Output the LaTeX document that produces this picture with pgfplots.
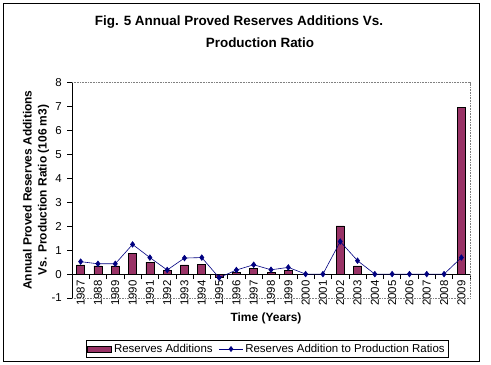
\documentclass[border=0pt]{standalone}
\usepackage{pgfplots}
\pgfplotsset{compat=1.18}
\usepackage{fontspec}
\setmainfont{Liberation Sans}
\definecolor{barc}{HTML}{993366}
\definecolor{linec}{HTML}{000080}
\begin{document}
\begin{tikzpicture}[x=1bp,y=1bp]
\path (0,0) rectangle (491,364);
\draw[black, line width=0.8bp] (3,3) rectangle (479,361);
\node[font=\bfseries\fontsize{13.5}{15}\selectfont] at (239,342) {Fig. 5 Annual Proved Reserves Additions Vs.};
\node[font=\bfseries\fontsize{13.5}{15}\selectfont] at (260,321) {Production Ratio};
\node[font=\bfseries\fontsize{12}{15}\selectfont, rotate=90, align=center] at (36,174) {Annual Proved Reserves Additions\\Vs. Production Ratio (106 m3)};
\node[font=\bfseries\fontsize{12}{13}\selectfont] at (266,46) {Time (Years)};
\begin{axis}[
  at={(72bp,66bp)}, anchor=south west,
  scale only axis, width=398bp, height=215.3bp,
  xmin=-0.5, xmax=22.5, ymin=-1, ymax=8,
  axis x line*=middle, axis y line*=left,
  axis line style={black, line width=0.6bp, -},
  xtick={0,...,22},
  xticklabels={1987,1988,1989,1990,1991,1992,1993,1994,1995,1996,1997,1998,1999,2000,2001,2002,2003,2004,2005,2006,2007,2008,2009},
  major x tick style={draw=none},
  minor xtick={-0.5,0.5,...,22.5},
  minor x tick style={black, line width=0.6bp},
  minor tick length=5bp,
  xticklabel style={rotate=90, anchor=east, font=\fontsize{11.5}{12}\selectfont, inner sep=1bp},
  ytick={-1,0,...,8},
  ytick style={black, line width=0.6bp},
  major tick length=5bp,
  tick align=outside,
  yticklabel style={font=\fontsize{11.5}{12}\selectfont, inner sep=1bp, xshift=-4bp},
  /pgf/number format/assume math mode=true,
  clip=false,
  legend style={at={(0.49,-0.237)}, anchor=center, legend columns=2, draw=black, line width=0.6bp,
    font=\fontsize{11.5}{12}\selectfont, inner sep=1.5bp, /tikz/every even column/.append style={column sep=4bp}},
]
\draw[gray, densely dotted, line width=0.6bp] (axis cs:-0.5,8) -- (axis cs:22.5,8) -- (axis cs:22.5,-1) -- (axis cs:-0.5,-1);
\addplot[ybar, bar width=8bp, fill=barc, draw=black, line width=0.6bp,
  legend image code/.code={\draw[fill=barc, draw=black, line width=0.6bp] (0bp,-3bp) rectangle (24bp,3bp);}]
  coordinates {(0,0.38) (1,0.34) (2,0.34) (3,0.85) (4,0.50) (5,0.14) (6,0.38) (7,0.42) (8,-0.14) (9,0.08) (10,0.25) (11,0.08) (12,0.17) (13,0) (14,0) (15,2.01) (16,0.34) (17,0) (18,0) (19,0) (20,0) (21,0) (22,6.97)};
\addlegendentry{Reserves Additions}
\addplot[linec, line width=0.6bp, mark=diamond*, mark size=2.8bp, mark options={fill=linec, draw=linec},
  legend image code/.code={\draw[linec, line width=0.6bp] (0bp,0bp) -- (24bp,0bp); \fill[linec] (12bp,0bp) +(0,2.5bp) -- +(2bp,0) -- +(0,-2.5bp) -- +(-2bp,0) -- cycle;}]
  coordinates {(0,0.52) (1,0.43) (2,0.43) (3,1.24) (4,0.69) (5,0.17) (6,0.67) (7,0.69) (8,-0.15) (9,0.17) (10,0.39) (11,0.18) (12,0.28) (13,0) (14,0) (15,1.36) (16,0.56) (17,0) (18,0) (19,0) (20,0) (21,0) (22,0.69)};
\addlegendentry{Reserves Addition to Production Ratios}
\end{axis}
\end{tikzpicture}
\end{document}
